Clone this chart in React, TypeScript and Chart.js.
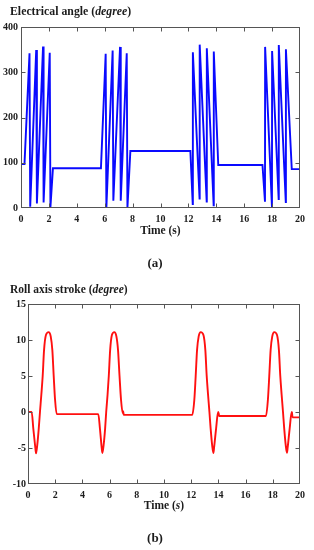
import React, { useEffect, useRef } from "react";
import { Chart, registerables } from "chart.js";

Chart.register(...registerables);

// ---------- Data ----------
const timeTicks = [0, 2, 4, 6, 8, 10, 12, 14, 16, 18, 20];
const angleTicks = [0, 100, 200, 300, 400];
const strokeTicks = [-10, -5, 0, 5, 10, 15];

const angleTime = [
  0, 0.25, 0.61, 0.66, 1.09, 1.14, 1.58, 1.62, 2.06, 2.11, 2.29,
  5.73, 6.07, 6.12, 6.57, 6.62, 7.1, 7.15, 7.58, 7.63, 7.84,
  12.14, 12.31, 12.32, 12.8, 12.81, 13.31, 13.32, 13.81, 13.82, 14.14,
  17.31, 17.49, 17.5, 17.99, 18.0, 18.47, 18.48, 18.98, 18.99, 19.41, 20,
];
const angleValue = [
  97, 97, 342, 3, 349, 10, 357, 12, 343, 2, 88,
  88, 341, 0, 348, 16, 356, 16, 342, 0, 126,
  126, 9, 344, 21, 361, 14, 353, 6, 346, 95,
  95, 14, 356, 2, 347, 20, 360, 13, 351, 86, 86,
];

const strokeTime = [
  0, 0.27, 0.39, 0.54, 0.59, 0.68, 0.79, 0.88, 0.98, 1.08, 1.18, 1.32, 1.52, 1.67, 1.79, 1.89, 1.99, 2.11,
  5.17, 5.29, 5.42, 5.47, 5.56, 5.67, 5.75, 5.85, 5.94, 6.04, 6.17, 6.35, 6.5, 6.62, 6.73, 6.84, 6.97, 7.0, 7.04,
  12.08, 12.23, 12.33, 12.43, 12.55, 12.7, 12.9, 13.04, 13.14, 13.24, 13.34, 13.43, 13.54, 13.63, 13.68, 13.83, 13.98, 14.02, 14.06,
  17.5, 17.64, 17.74, 17.84, 17.96, 18.11, 18.31, 18.45, 18.55, 18.65, 18.75, 18.84, 18.95, 19.04, 19.09, 19.24, 19.39, 19.41, 19.45, 20,
];
const strokeValue = [
  0, 0, -2.3, -5.0, -5.75, -4.6, -2.3, 0, 2.4, 5, 8.6, 10.7, 11.1, 10.5, 8.6, 5, 1.7, -0.3,
  -0.3, -2.3, -5.0, -5.7, -4.6, -2.3, 0, 2.4, 5, 8.6, 10.7, 11.1, 10.5, 8.6, 5, 1.7, -0.2, 0.1, -0.4,
  -0.4, 1.7, 5, 8.6, 10.5, 11.1, 10.7, 8.6, 5, 2.4, 0, -2.3, -4.6, -5.7, -5.0, -2.3, 0, -0.2, -0.55,
  -0.55, 1.7, 5, 8.6, 10.5, 11.1, 10.7, 8.6, 5, 2.4, 0, -2.3, -4.6, -5.65, -5.0, -2.3, 0, -0.1, -0.74, -0.74,
];

const FONT = '"Liberation Serif", "Times New Roman", serif';
const TEXT = "#1c1c1c";

const framePlugin = {
  id: "frameTicks",
  afterDraw(chart: any) {
    const { ctx, chartArea: a, scales } = chart;
    ctx.save();
    ctx.strokeStyle = "#555";
    ctx.lineWidth = 1;
    const L = Math.round(a.left) + 0.5;
    const R = Math.round(a.right) - 0.5;
    const T = Math.round(a.top) + 0.5;
    const B = Math.round(a.bottom) - 0.5;
    ctx.strokeRect(L, T, R - L, B - T);
    const len = 4;
    ctx.beginPath();
    scales.x.ticks.forEach((t: any) => {
      if (t.value === scales.x.min || t.value === scales.x.max) return;
      const p = Math.round(scales.x.getPixelForValue(t.value)) + 0.5;
      ctx.moveTo(p, B);
      ctx.lineTo(p, B - len);
      ctx.moveTo(p, T);
      ctx.lineTo(p, T + len);
    });
    scales.y.ticks.forEach((t: any) => {
      if (t.value === scales.y.min || t.value === scales.y.max) return;
      const p = Math.round(scales.y.getPixelForValue(t.value)) + 0.5;
      ctx.moveTo(L, p);
      ctx.lineTo(L + len, p);
      ctx.moveTo(R, p);
      ctx.lineTo(R - len, p);
    });
    ctx.stroke();
    ctx.restore();
  },
};

function makeConfig(
  times: number[],
  values: number[],
  color: string,
  yTicks: number[],
  yWidth: number,
  xHeight: number,
  topPad: number,
  yPad: number,
  smooth: boolean
): any {
  return {
    type: "line",
    data: {
      datasets: [
        {
          data: times.map((t, i) => ({ x: t, y: values[i] })),
          borderColor: color,
          borderWidth: 1.9,
          pointRadius: 0,
          fill: false,
          tension: 0,
          cubicInterpolationMode: smooth ? "monotone" : "default",
        },
      ],
    },
    options: {
      animation: false,
      responsive: true,
      maintainAspectRatio: false,
      layout: { padding: { top: topPad, right: 14, left: 0, bottom: 0 } },
      plugins: { legend: { display: false }, tooltip: { enabled: false }, title: { display: false } },
      scales: {
        x: {
          type: "linear",
          min: timeTicks[0],
          max: timeTicks[timeTicks.length - 1],
          afterBuildTicks: (s: any) => {
            s.ticks = timeTicks.map((v) => ({ value: v }));
          },
          afterFit: (s: any) => {
            s.height = xHeight;
          },
          grid: { display: false, drawTicks: false },
          border: { display: false },
          ticks: {
            padding: 5,
            color: TEXT,
            maxRotation: 0,
            autoSkip: false,
            font: { family: FONT, size: 10, weight: "bold" },
          },
        },
        y: {
          type: "linear",
          min: yTicks[0],
          max: yTicks[yTicks.length - 1],
          afterBuildTicks: (s: any) => {
            s.ticks = yTicks.map((v) => ({ value: v }));
          },
          afterFit: (s: any) => {
            s.width = yWidth;
          },
          grid: { display: false, drawTicks: false },
          border: { display: false },
          ticks: {
            padding: yPad,
            color: TEXT,
            autoSkip: false,
            font: { family: FONT, size: 10, weight: "bold" },
          },
        },
      },
    },
    plugins: [framePlugin],
  };
}

function ChartBox(props: { top: number; height: number; config: any }) {
  const ref = useRef<HTMLCanvasElement | null>(null);
  useEffect(() => {
    if (!ref.current) return;
    const chart = new Chart(ref.current, props.config);
    return () => chart.destroy();
  }, []);
  return (
    <div style={{ position: "absolute", left: 0, top: props.top, width: 314, height: props.height }}>
      <canvas ref={ref} />
    </div>
  );
}

function Label(props: { x: number; y: number; size: number; align?: string; children: any }) {
  const center = props.align !== "left";
  return (
    <div
      style={{
        position: "absolute",
        left: props.x,
        top: props.y,
        transform: center ? "translate(-50%, -50%)" : "translateY(-50%)",
        fontSize: props.size,
        fontWeight: "bold",
        whiteSpace: "nowrap",
        lineHeight: 1,
        color: TEXT,
      }}
    >
      {props.children}
    </div>
  );
}

export default function App() {
  const cfg1 = makeConfig(angleTime, angleValue, "#0a0aff", angleTicks, 21, 32, 27, 3, false);
  const cfg2 = makeConfig(strokeTime, strokeValue, "#ff1010", strokeTicks, 28, 36, 24, 2, true);
  return (
    <div
      style={{
        position: "fixed",
        left: 0,
        top: 0,
        width: 314,
        height: 550,
        background: "#fff",
        fontFamily: FONT,
        overflow: "hidden",
      }}
    >
      <ChartBox top={0} height={240} config={cfg1} />
      <ChartBox top={280} height={240} config={cfg2} />
      <Label x={10} y={12} size={11.8} align="left">
        Electrical angle (<i>degree</i>)
      </Label>
      <Label x={160.5} y={231} size={11.5}>
        Time (s)
      </Label>
      <Label x={155} y={262} size={13}>
        (a)
      </Label>
      <Label x={10} y={290} size={11.5} align="left">
        Roll axis stroke (<i>degree</i>)
      </Label>
      <Label x={164} y={506} size={11.5}>
        Time (<i>s</i>)
      </Label>
      <Label x={155} y={537} size={13}>
        (b)
      </Label>
    </div>
  );
}
